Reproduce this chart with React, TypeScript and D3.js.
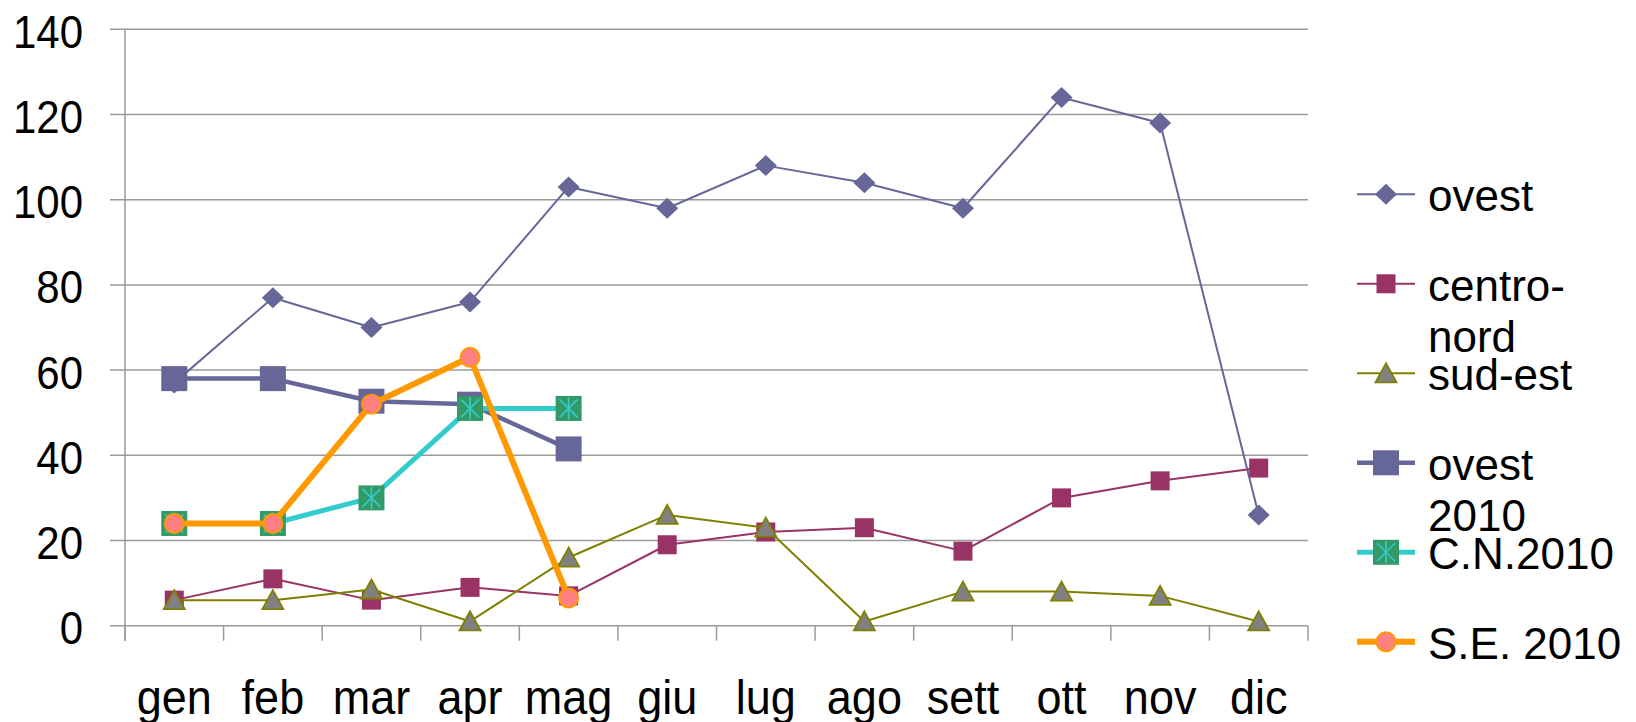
import React from "react";
import * as d3 from "d3";

const months = ["gen", "feb", "mar", "apr", "mag", "giu", "lug", "ago", "sett", "ott", "nov", "dic"];
const ovest = [57, 77, 70, 76, 103, 98, 108, 104, 98, 124, 118, 26];
const centroNord = [6, 11, 6, 9, 7, 19, 22, 23, 17.5, 30, 34, 37];
const sudEst = [6, 6, 8.5, 1, 16, 26, 23, 1, 8, 8, 7, 1];
const ovest2010 = [58, 58, 52.7, 52, 41.5];
const cn2010 = [24, 24, 30, 51, 51];
const se2010 = [24, 24, 52, 63, 6.5];
const yTicks = [0, 20, 40, 60, 80, 100, 120, 140];

type Series = {
  name: string[];
  values: number[];
  color: string;
  width: number;
  marker: "diamond" | "square" | "triangle" | "bigsquare" | "star" | "circle";
};

const series: Series[] = [
  { name: ["ovest"], values: ovest, color: "#666699", width: 2, marker: "diamond" },
  { name: ["centro-", "nord"], values: centroNord, color: "#993366", width: 2, marker: "square" },
  { name: ["sud-est"], values: sudEst, color: "#808000", width: 2, marker: "triangle" },
  { name: ["ovest", "2010"], values: ovest2010, color: "#666699", width: 4.5, marker: "bigsquare" },
  { name: ["C.N.2010"], values: cn2010, color: "#33CCCC", width: 5, marker: "star" },
  { name: ["S.E. 2010"], values: se2010, color: "#FF9900", width: 6, marker: "circle" },
];

const W = 1636;
const H = 722;
const left = 125;
const right = 1308;
const top = 29.3;
const bottom = 625.7;

const x = d3.scaleBand<string>().domain(months).range([left, right]).paddingInner(0).paddingOuter(0);
const y = d3.scaleLinear().domain([0, 140]).range([bottom, top]);
const cx = (i: number) => (x(months[i]) as number) + x.bandwidth() / 2;

function Marker({ kind, px, py }: { kind: Series["marker"]; px: number; py: number }) {
  switch (kind) {
    case "diamond":
      return <path d={`M${px},${py - 10.5}L${px + 11},${py}L${px},${py + 10.5}L${px - 11},${py}Z`} fill="#666699" />;
    case "square":
      return <rect x={px - 9.5} y={py - 9.5} width={19} height={19} fill="#993366" />;
    case "triangle":
      return (
        <path
          d={`M${px},${py - 10}L${px + 10.5},${py + 9}L${px - 10.5},${py + 9}Z`}
          fill="#808080"
          stroke="#808000"
          strokeWidth={1.8}
        />
      );
    case "bigsquare":
      return <rect x={px - 13} y={py - 12.5} width={26} height={25} fill="#666699" />;
    case "star":
      return (
        <g>
          <rect x={px - 13} y={py - 12.5} width={26} height={25} fill="#339966" />
          <path
            d={`M${px},${py - 11}L${px},${py + 11}M${px - 9},${py - 9}L${px + 9},${py + 9}M${px - 9},${py + 9}L${px + 9},${py - 9}`}
            stroke="#33CCCC"
            strokeWidth={1.6}
          />
        </g>
      );
    case "circle":
      return <circle cx={px} cy={py} r={9.5} fill="#FF8080" stroke="#FF9900" strokeWidth={2} />;
  }
}

export default function App() {
  const line = d3
    .line<number>()
    .x((_, i) => cx(i))
    .y((d) => y(d));

  const boundaries = d3.range(months.length + 1).map((i) =>
    i < months.length ? (x(months[i]) as number) : right
  );

  const legendX = 1357;
  const legendY0 = 194.3;
  const legendStep = 89.5;

  return (
    <div style={{ position: "fixed", left: 0, top: 0, width: W, height: H, background: "#fff" }}>
      <svg width={W} height={H} style={{ display: "block" }} fontFamily="'Liberation Sans', Arial, sans-serif">
        <rect width={W} height={H} fill="#ffffff" />
        {yTicks.map((t) => (
          <line key={"g" + t} x1={110} x2={right} y1={y(t)} y2={y(t)} stroke="#9a9a9a" strokeWidth={1.5} />
        ))}
        <line x1={left} x2={left} y1={top} y2={bottom + 15} stroke="#9a9a9a" strokeWidth={1.5} />
        {boundaries.map((b, i) => (
          <line key={"xt" + i} x1={b} x2={b} y1={bottom} y2={bottom + 15} stroke="#9a9a9a" strokeWidth={1.5} />
        ))}
        {yTicks.map((t) => (
          <text
            key={"yl" + t}
            transform={`translate(83,${y(t) + 18.5}) scale(1,1.08)`}
            textAnchor="end"
            fontSize={42}
            fill="#000"
          >
            {t}
          </text>
        ))}
        {months.map((m, i) => (
          <text
            key={"xl" + m}
            transform={`translate(${cx(i)},714) scale(1,1.08)`}
            textAnchor="middle"
            fontSize={45}
            fill="#000"
          >
            {m}
          </text>
        ))}
        {series.map((s, si) => (
          <g key={"s" + si}>
            <path d={line(s.values) || ""} fill="none" stroke={s.color} strokeWidth={s.width} strokeLinejoin="round" />
            {s.values.map((v, i) => (
              <Marker key={i} kind={s.marker} px={cx(i)} py={y(v)} />
            ))}
          </g>
        ))}
        {series.map((s, si) => {
          const ly = legendY0 + si * legendStep;
          return (
            <g key={"lg" + si}>
              <line x1={legendX} x2={legendX + 58} y1={ly} y2={ly} stroke={s.color} strokeWidth={s.width} />
              <Marker kind={s.marker} px={legendX + 29} py={ly} />
              {s.name.map((n, k) => (
                <text key={k} x={1428} y={ly + 17 + k * 51} fontSize={44} fill="#000">
                  {n}
                </text>
              ))}
            </g>
          );
        })}
      </svg>
    </div>
  );
}
